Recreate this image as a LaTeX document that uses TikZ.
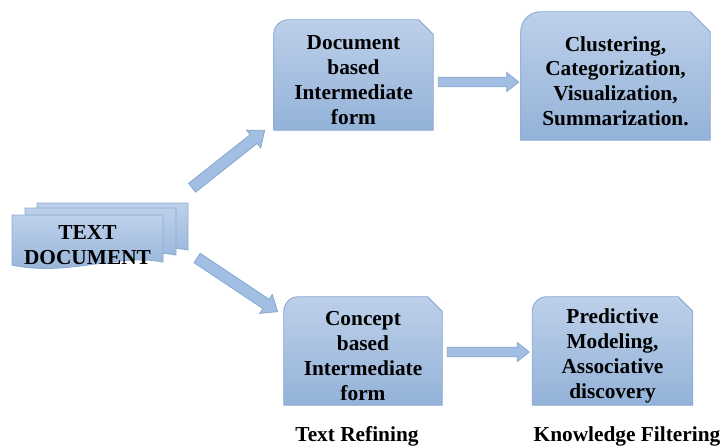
\documentclass[tikz,border=0pt]{standalone}
\usepackage{fontspec}
\setmainfont{Liberation Serif}
\usetikzlibrary{calc,backgrounds}

\definecolor{boxtop}{HTML}{BDD0EA}
\definecolor{boxbot}{HTML}{93B2D8}
\definecolor{boxline}{HTML}{8EABD5}
\definecolor{arrowfill}{HTML}{A2BEE2}
\definecolor{arrowline}{HTML}{86A7D2}

\tikzset{
  boldtext/.style={font=\bfseries\fontsize{16}{18.6}\selectfont},
  stagebox/.style 2 args={boldtext, align=center, inner sep=0pt,
    minimum width=#1, minimum height=#2},
  boxshade/.style={top color=boxtop, bottom color=boxbot, draw=boxline, line width=0.7pt},
  arrowshade/.style={fill=arrowfill, draw=arrowline, line width=0.6pt},
}

% block arrow: #1 tail, #2 tip, #3 shaft half width, #4 head half width, #5 head length
\newcommand{\blockarrow}[5]{%
  \path[arrowshade] let \p1=(#1), \p2=(#2),
    \n1={atan2(\y2-\y1,\x2-\x1)}, \n2={veclen(\x2-\x1,\y2-\y1)} in
    [shift={(\p1)}, rotate=\n1]
    (0pt,-#3) -- (\n2-#5,-#3) -- (\n2-#5,-#4) -- (\n2,0pt)
    -- (\n2-#5,#4) -- (\n2-#5,#3) -- (0pt,#3) -- cycle;
}

\begin{document}
\begin{tikzpicture}[x=0.75pt, y=0.75pt]
    \useasboundingbox (0,0) rectangle (722,-447);

    % stack of sheets
    \foreach \dx/\dy in {25/12, 13/7, 0/0} {
      \shade[boxshade, shift={(12+\dx,-215+\dy)}]
        (0,0) -- (151,0) -- (151,-47) .. controls (105,-38) and (55,-62) .. (0,-50) -- cycle;
    }
    \node[stagebox={113pt}{36pt}] (textdoc) at (87.5,-245) {TEXT\\DOCUMENT};

    % stages (text sits 5px below the middle of its box)
    \node[stagebox={119.25pt}{82.5pt}] (docform) at (353.5,-80) {Document\\based\\Intermediate\\form};
    \node[stagebox={141.75pt}{96pt}] (clusters) at (615.5,-81) {Clustering,\\Categorization,\\Visualization,\\Summarization.};
    \node[stagebox={118.5pt}{81pt}] (concept) at (363,-356) {Concept\\based\\Intermediate\\form};
    \node[stagebox={120pt}{81pt}] (predict) at (612.5,-356) {Predictive\\Modeling,\\Associative\\discovery};

    \begin{scope}[on background layer]
      \foreach \n/\cut in {docform/11, clusters/15, concept/11, predict/11} {
        \shade[boxshade] ([yshift=3.75pt]\n.south west)
          -- ([yshift={3.75pt-\cut pt}]\n.north west)
          arc[start angle=180, end angle=90, radius=\cut pt]
          -- ([xshift=-\cut pt, yshift=3.75pt]\n.north east)
          -- ([yshift={3.75pt-\cut pt}]\n.north east)
          -- ([yshift=3.75pt]\n.south east) -- cycle;
      }
    \end{scope}

    % arrows
    \blockarrow{$(textdoc.north east)+(29,33)$}{$(docform.south west)+(-9,5)$}{4.2pt}{8.5pt}{10.5pt}
    \blockarrow{$(textdoc.east)+(34,-13)$}{$(concept.north west)+(-6,-10)$}{4.2pt}{8.5pt}{10.5pt}
    \blockarrow{$(docform.east)+(5,-2)$}{$(clusters.west)+(-2,-1)$}{3.6pt}{7.2pt}{9pt}
    \blockarrow{$(concept.east)+(5,4)$}{$(predict.west)+(-3,4)$}{3.6pt}{7.2pt}{9pt}

    % stage labels
    \node[boldtext] (refining) at (357,-436) {Text Refining};
    \node[boldtext] (filtering) at (627,-436) {Knowledge Filtering};
\end{tikzpicture}
\end{document}
